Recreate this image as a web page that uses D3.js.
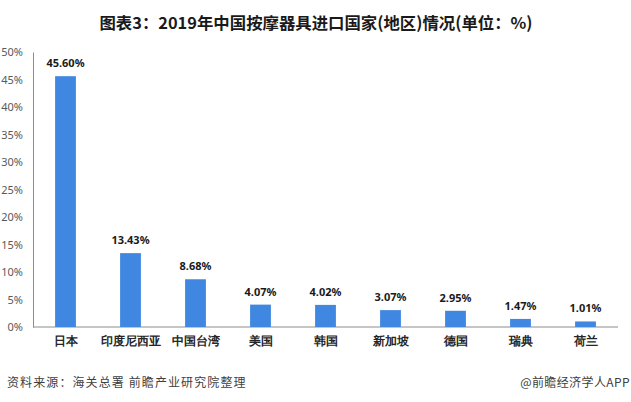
<!DOCTYPE html>
<html><head><meta charset="utf-8">
<script src="https://cdn.jsdelivr.net/npm/d3@7"></script>
<style>body{margin:0;background:#fff;}svg{display:block;font-family:"Noto Sans CJK SC","Noto Sans",sans-serif;}</style>
</head><body>
<svg id="c" width="631" height="402"></svg>
<script>
const categories = ["日本","印度尼西亚","中国台湾","美国","韩国","新加坡","德国","瑞典","荷兰"];
const values = [45.60,13.43,8.68,4.07,4.02,3.07,2.95,1.47,1.01];
const yTicks = [0,5,10,15,20,25,30,35,40,45,50];
const title = "图表3：2019年中国按摩器具进口国家(地区)情况(单位：%)";
const source = "资料来源：海关总署 前瞻产业研究院整理";
const credit = "@前瞻经济学人APP";

const svg = d3.select("#c");
const x = d3.scaleBand().domain(categories).range([33,618]).paddingInner(0.68).paddingOuter(0.34);
const y = d3.scaleLinear().domain([0,50]).range([327,52]);

svg.append("text").attr("x",316).attr("y",29).attr("text-anchor","middle")
  .attr("font-size",16.4).attr("font-weight","bold").attr("fill","#1a1a1a").text(title);

const ya = svg.append("g").attr("transform","translate(33,0)")
  .call(d3.axisLeft(y).tickValues(yTicks).tickSize(0).tickPadding(10).tickFormat(d=>d+"%"));
ya.select(".domain").attr("stroke","#8c8c8c");
ya.selectAll("text").attr("font-size",11).attr("fill","#595959").attr("font-family","Noto Sans, sans-serif");

const xa = svg.append("g").attr("transform","translate(0,327)")
  .call(d3.axisBottom(x).tickSize(0).tickPadding(9));
xa.select(".domain").attr("stroke","#8c8c8c").attr("d","M33,0H618");
xa.selectAll("text").attr("font-size",12).attr("fill","#262626").attr("font-weight","bold");

svg.selectAll("rect.bar").data(values).join("rect").attr("class","bar")
  .attr("x",(d,i)=>x(categories[i])).attr("width",x.bandwidth())
  .attr("y",d=>y(d)).attr("height",d=>y(0)-y(d)).attr("fill","#3f87e0");

svg.selectAll("text.val").data(values).join("text").attr("class","val")
  .attr("x",(d,i)=>x(categories[i])+x.bandwidth()/2).attr("y",d=>y(d)-9)
  .attr("text-anchor","middle").attr("font-size",11).attr("font-weight","bold")
  .attr("fill","#1a1a1a").attr("font-family","Noto Sans, sans-serif").text(d=>d.toFixed(2)+"%");

svg.append("text").attr("x",7).attr("y",387).attr("font-size",12).attr("letter-spacing",1.1).attr("fill","#404040").text(source);
svg.append("text").attr("x",630).attr("y",387).attr("text-anchor","end").attr("font-size",12).attr("letter-spacing",0.4).attr("fill","#404040").text(credit);
</script>
</body></html>
